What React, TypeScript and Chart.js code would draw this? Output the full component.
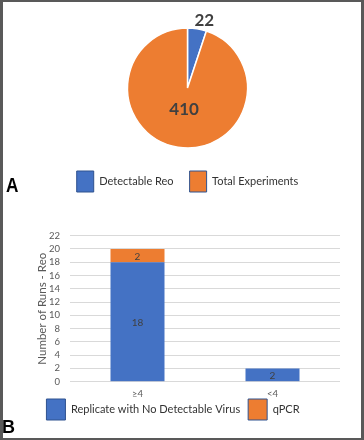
import React, { useEffect, useRef } from "react";
import { Chart, registerables } from "chart.js";

Chart.register(...registerables);

// ---- Panel A data ----
const pieLabels = ["Detectable Reo", "Total Experiments"];
const pieValues = [22, 410];

// ---- Panel B data ----
const barCategories = ["≥4", "<4"];
const seriesNoVirusName = "Replicate with No Detectable Virus";
const seriesNoVirus = [18, 2];
const seriesQpcrName = "qPCR";
const seriesQpcr = [2, 0];
const yTicksMax = 22;
const yTicksStep = 2;
const yAxisTitle = "Number of Runs - Reo";

const BLUE = "#4472C4";
const ORANGE = "#ED7D31";
const BOX_BORDER = "#2F528F";
const TEXT = "#404040";
const FONT = "Lato, 'Open Sans', sans-serif";

function legendLabelsWithBorder(chart: any) {
  const base = Chart.defaults.plugins.legend.labels.generateLabels;
  const items = (chart.config.type === "pie"
    ? (Chart.overrides as any).pie.plugins.legend.labels.generateLabels(chart)
    : base(chart)) as any[];
  return items.map((it) => ({ ...it, strokeStyle: BOX_BORDER, lineWidth: 1 }));
}

const legendShiftPlugin = {
  id: "legendShift",
  afterLayout(chart: any, _args: any, opts: any) {
    const d = (opts && opts.shift) || 0;
    if (chart.legend && d) {
      chart.legend.top -= d;
      chart.legend.bottom -= d;
    }
  },
};

const pieLabelPlugin = {
  id: "pieLabels",
  afterDatasetsDraw(chart: any) {
    const ctx = chart.ctx;
    const meta = chart.getDatasetMeta(0);
    const data = chart.data.datasets[0].data as number[];
    const total = data.reduce((a, b) => a + b, 0);
    ctx.save();
    ctx.fillStyle = TEXT;
    ctx.font = `bold 17px ${FONT}`;
    ctx.textAlign = "center";
    ctx.textBaseline = "middle";
    meta.data.forEach((arc: any, i: number) => {
      const { x, y, startAngle, endAngle, outerRadius } = arc.getProps(
        ["x", "y", "startAngle", "endAngle", "outerRadius"],
        true
      );
      const mid = (startAngle + endAngle) / 2;
      const dx = Math.cos(mid);
      const dy = Math.sin(mid);
      const text = String(data[i]);
      const tw = ctx.measureText(text).width;
      let lx: number, ly: number;
      if (data[i] / total < 0.1) {
        const r = outerRadius + 8;
        lx = x + dx * r + Math.sign(dx) * tw * 0.3;
        ly = y + dy * r;
      } else {
        const r = outerRadius * 0.36;
        lx = x + dx * r;
        ly = y + dy * r;
      }
      ctx.fillText(text, lx, ly);
    });
    ctx.restore();
  },
};

const barLabelPlugin = {
  id: "barLabels",
  afterDatasetsDraw(chart: any) {
    const ctx = chart.ctx;
    ctx.save();
    ctx.fillStyle = TEXT;
    ctx.font = `10px ${FONT}`;
    ctx.textAlign = "center";
    ctx.textBaseline = "middle";
    chart.data.datasets.forEach((ds: any, di: number) => {
      const meta = chart.getDatasetMeta(di);
      meta.data.forEach((bar: any, i: number) => {
        const v = ds.data[i];
        if (!v) return;
        const { x, y, base } = bar.getProps(["x", "y", "base"], true);
        ctx.fillText(String(v), x, (y + base) / 2 + 1);
      });
    });
    ctx.restore();
  },
};

export default function App() {
  const pieRef = useRef<HTMLCanvasElement>(null);
  const barRef = useRef<HTMLCanvasElement>(null);

  useEffect(() => {
    let pie: Chart | null = null;
    let bar: Chart | null = null;
    let cancelled = false;
    const make = () => {
      if (cancelled || !pieRef.current || !barRef.current) return;
      Chart.defaults.font.family = FONT;

      pie = new Chart(pieRef.current, {
        type: "pie",
        data: {
          labels: pieLabels,
          datasets: [
            {
              data: pieValues,
              backgroundColor: [BLUE, ORANGE],
              borderColor: "#ffffff",
              borderWidth: 1.5,
              radius: 60,
            } as any,
          ],
        },
        options: {
          responsive: false,
          animation: false,
          layout: { padding: { left: 11, right: 0, top: 21, bottom: 18 } },
          plugins: {
            tooltip: { enabled: false },
            legend: {
              position: "bottom",
              labels: {
                boxWidth: 17,
                boxHeight: 21,
                padding: 16,
                color: "#333333",
                font: { size: 11, family: FONT },
                generateLabels: legendLabelsWithBorder,
              },
            },
          },
        },
        plugins: [pieLabelPlugin],
      });

      bar = new Chart(barRef.current, {
        type: "bar",
        data: {
          labels: barCategories,
          datasets: [
            {
              label: seriesNoVirusName,
              data: seriesNoVirus,
              backgroundColor: BLUE,
              borderWidth: 0,
              barPercentage: 0.4,
              categoryPercentage: 1.0,
            },
            {
              label: seriesQpcrName,
              data: seriesQpcr,
              backgroundColor: ORANGE,
              borderWidth: 0,
              barPercentage: 0.4,
              categoryPercentage: 1.0,
            },
          ],
        },
        options: {
          responsive: false,
          animation: false,
          layout: { padding: { left: 6, right: 24, top: 9.3, bottom: 0.9 } },
          scales: {
            x: {
              stacked: true,
              grid: { display: false, drawTicks: false },
              border: { display: false },
              ticks: { color: "#595959", padding: 7, font: { size: 9.5, family: FONT } },
              afterFit: (s: any) => {
                s.height = 18.4;
              },
            },
            y: {
              stacked: true,
              min: 0,
              max: yTicksMax,
              ticks: {
                stepSize: yTicksStep,
                autoSkip: false,
                color: "#595959",
                padding: 10,
                font: { size: 9.5, family: FONT },
              },
              grid: { color: "#D9D9D9", drawTicks: false, lineWidth: 1 },
              border: { display: false },
              title: {
                display: true,
                text: yAxisTitle,
                color: "#595959",
                font: { size: 11.5, family: FONT },
                padding: { top: 29.1, bottom: 0 },
              },
              afterFit: (s: any) => {
                s.width = 64;
              },
            },
          },
          plugins: {
            tooltip: { enabled: false },
            legendShift: { shift: 9.1 },
            legend: {
              position: "bottom",
              labels: {
                boxWidth: 19,
                boxHeight: 21,
                padding: 8,
                color: "#333333",
                font: { size: 11, family: FONT },
                generateLabels: legendLabelsWithBorder,
              },
            },
          } as any,
        },
        plugins: [barLabelPlugin, legendShiftPlugin],
      });
    };
    const fontsApi: any = (document as any).fonts;
    if (fontsApi && fontsApi.load) {
      Promise.all([
        fontsApi.load(`11px Lato`),
        fontsApi.load(`bold 17px Lato`),
      ])
        .catch(() => null)
        .then(make);
    } else {
      make();
    }
    return () => {
      cancelled = true;
      if (pie) pie.destroy();
      if (bar) bar.destroy();
    };
  }, []);

  return (
    <div
      style={{
        position: "absolute",
        left: 0,
        top: 0,
        width: 364,
        height: 440,
        background: "#ffffff",
        overflow: "hidden",
      }}
    >
      <canvas
        ref={pieRef}
        width={364}
        height={220}
        style={{ position: "absolute", left: 0, top: 0, width: 364, height: 220 }}
      />
      <canvas
        ref={barRef}
        width={364}
        height={220}
        style={{ position: "absolute", left: 0, top: 220, width: 364, height: 220 }}
      />
      <div
        style={{
          position: "absolute",
          left: 6,
          top: 174,
          fontFamily: "'Liberation Sans', Arial, sans-serif",
          fontWeight: "bold",
          fontSize: 21,
          lineHeight: "21px",
          color: "#000",
          transform: "scaleX(0.82)",
          transformOrigin: "left top",
        }}
      >
        A
      </div>
      <div
        style={{
          position: "absolute",
          left: 2,
          top: 418,
          fontFamily: "'Liberation Sans', Arial, sans-serif",
          fontWeight: "bold",
          fontSize: 18,
          lineHeight: "18px",
          color: "#000",
        }}
      >
        B
      </div>
      <div
        style={{
          position: "absolute",
          left: 0,
          top: 0,
          width: 364,
          height: 440,
          boxSizing: "border-box",
          borderStyle: "solid",
          borderColor: "#595959",
          borderWidth: "2px 3px 2px 3px",
          pointerEvents: "none",
        }}
      />
    </div>
  );
}
